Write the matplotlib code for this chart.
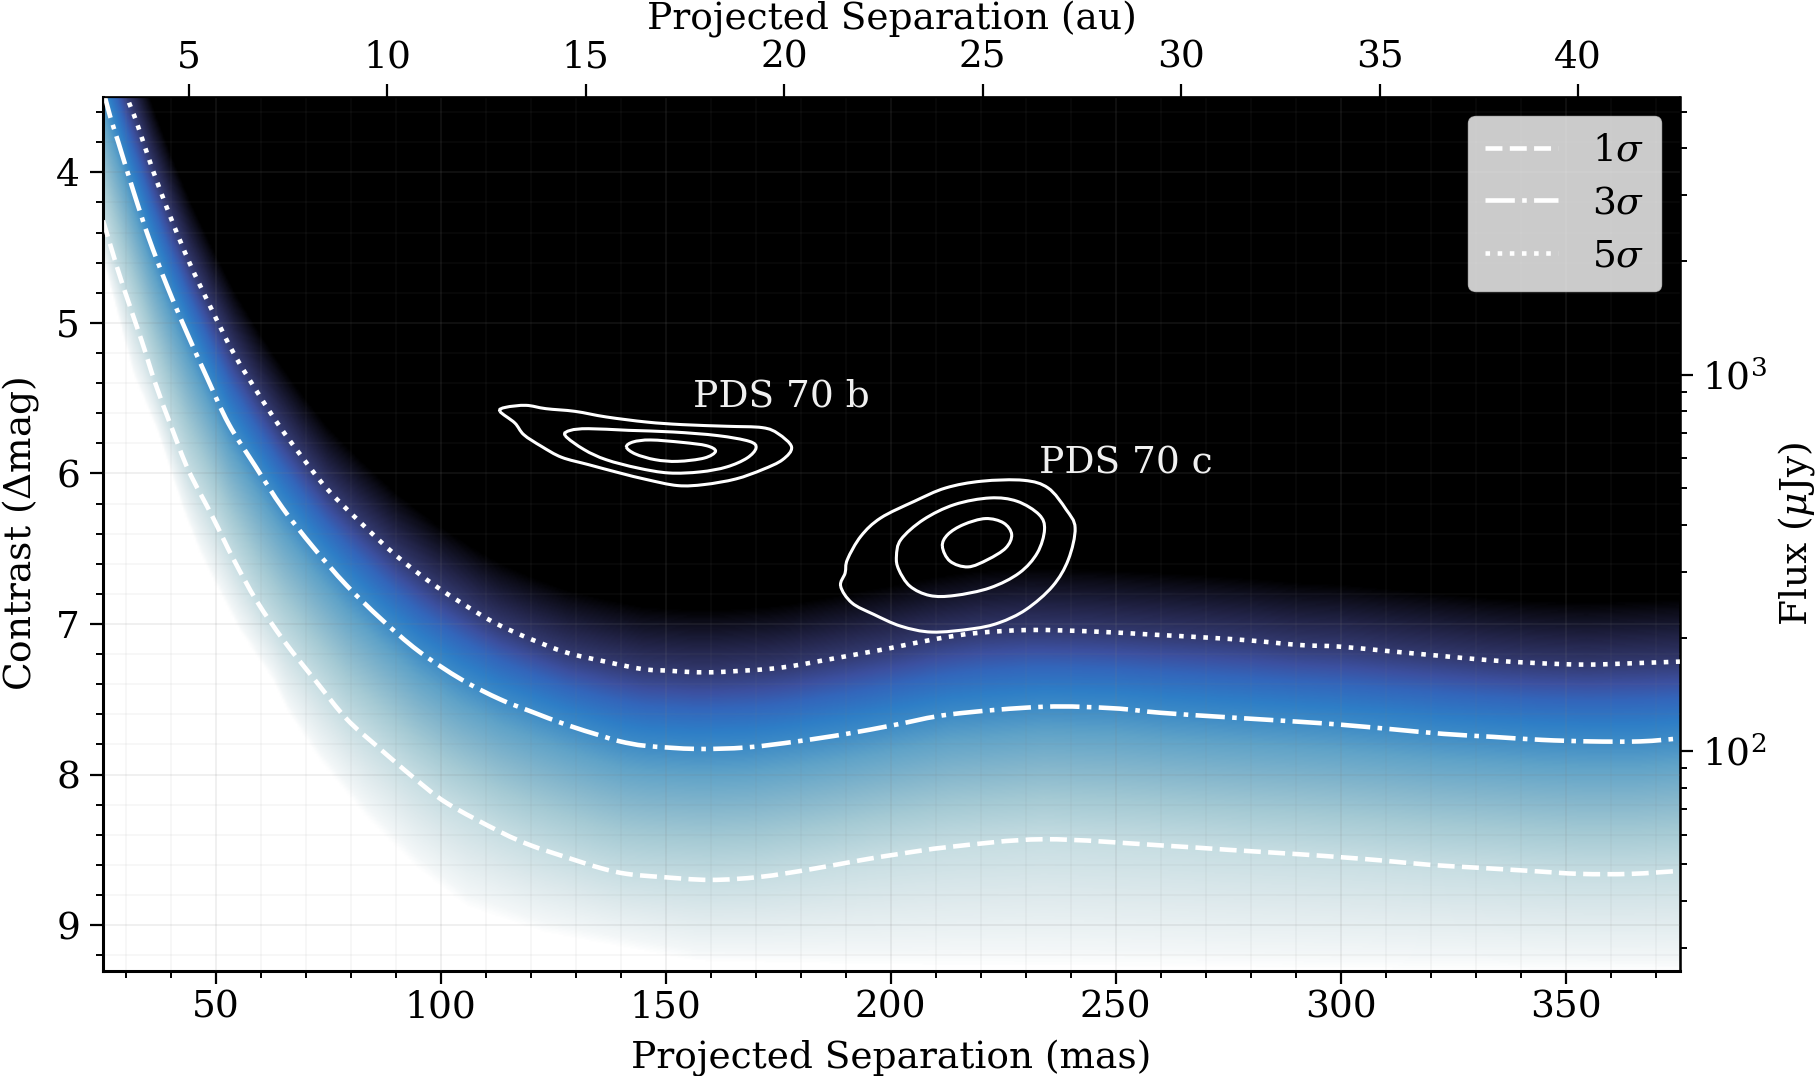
import numpy as np
import matplotlib
matplotlib.use('Agg')
import matplotlib.pyplot as plt
from matplotlib.colors import LinearSegmentedColormap
from matplotlib.lines import Line2D
from matplotlib.patches import PathPatch
from matplotlib.path import Path
from matplotlib.ticker import MultipleLocator, NullFormatter, LogLocator

plt.rcParams['font.family'] = 'DejaVu Serif'
plt.rcParams['mathtext.fontset'] = 'dejavuserif'

# contrast curves (mas, delta mag)
sep_5s = [25, 30, 32.5, 36, 39.9, 44.2, 48.8, 54, 59.7, 64.3, 69.2, 74.7, 82, 90.3, 99, 108.4, 113.2, 120, 128,
          136.6, 144.9, 150.5, 156, 161.5, 167.2, 172.6, 178, 183.6, 189.1, 194.6, 200, 210, 219.2, 231, 245, 257.7,
          270, 280, 291, 299.5, 310.5, 321.5, 332.7, 343.6, 354.7, 365.8, 375.4]
con_5s = [3.0, 3.47, 3.67, 3.98, 4.29, 4.60, 4.89, 5.20, 5.48, 5.69, 5.89, 6.10, 6.32, 6.55, 6.75, 6.93, 7.01, 7.10, 7.19,
          7.25, 7.30, 7.31, 7.32, 7.32, 7.31, 7.30, 7.28, 7.25, 7.22, 7.19, 7.16, 7.10, 7.06, 7.04, 7.05, 7.07,
          7.09, 7.11, 7.14, 7.15, 7.18, 7.21, 7.24, 7.26, 7.27, 7.26, 7.25]

sep_3s = [25, 26.6, 28.4, 31.7, 35.1, 39.3, 43.7, 48.2, 52.9, 58.8, 64.9, 71.7, 79, 86.9, 95.1, 104.7, 113.2, 120, 128,
          135.4, 139.9, 145.8, 156.9, 168, 179.2, 190.2, 201, 213.4, 234, 249.4, 260, 275,
          291, 300.4, 311.7, 322.8, 333.9, 344.7, 355.4, 366.6, 375.4]
con_3s = [3.45, 3.63, 3.80, 4.12, 4.43, 4.76, 5.07, 5.37, 5.67, 5.95, 6.23, 6.49, 6.74, 6.97, 7.18, 7.37, 7.50, 7.58, 7.67,
          7.74, 7.78, 7.81, 7.83, 7.82, 7.78, 7.73, 7.67, 7.60, 7.55, 7.56, 7.59, 7.62,
          7.65, 7.67, 7.70, 7.73, 7.75, 7.77, 7.78, 7.78, 7.76]

sep_1s = [25, 27.1, 29.5, 33.6, 36.6, 40.3, 44, 49.2, 54, 59.2, 65.4, 72.3, 79.1, 85.8, 94, 101.4, 113.2, 120, 128,
          135.4, 141.4, 148.8, 159.9, 171, 182.1, 193.2, 201.4, 213.4, 234, 259.7, 275,
          291, 300.4, 308.8, 319.9, 331, 342, 353.2, 364.4, 375.4]
con_1s = [4.32, 4.53, 4.76, 5.12, 5.40, 5.70, 5.98, 6.28, 6.57, 6.85, 7.12, 7.38, 7.63, 7.81, 8.02, 8.19, 8.38, 8.47, 8.55,
          8.62, 8.66, 8.68, 8.70, 8.68, 8.63, 8.57, 8.53, 8.48, 8.43, 8.47, 8.50,
          8.53, 8.55, 8.57, 8.60, 8.62, 8.64, 8.66, 8.66, 8.64]

# lower edge of the coloured area
sep_edge = [25, 31.7, 37, 42.8, 46.6, 50.3, 55.4, 62.8, 65.9, 73.2, 83.6, 94.7, 105.9, 123, 156.8, 200, 375.4]
con_edge = [4.6, 5.36, 5.73, 6.26, 6.55, 6.77, 7.06, 7.39, 7.59, 7.92, 8.30, 8.63, 8.89, 9.06, 9.25, 9.28, 9.32]

# posterior contours of the two planets
b_outer_x = [113.2, 114.5, 119.0, 123.4, 129.9, 136.8, 145.8, 153.7, 163.6, 171.5, 175.0, 178.0, 176.0, 171.5, 165.6, 158.6, 152.7, 145.8, 139.8, 132.9, 126.9, 122.4, 118.5, 116.5]
b_outer_y = [5.588, 5.561, 5.548, 5.570, 5.588, 5.625, 5.659, 5.676, 5.687, 5.696, 5.736, 5.825, 5.909, 5.975, 6.037, 6.074, 6.081, 6.041, 5.997, 5.942, 5.893, 5.820, 5.743, 5.665]
b_mid_x = [127.7, 128.9, 132.9, 141.8, 151.7, 161.6, 168.6, 170.1, 168.1, 163.6, 157.7, 150.7, 143.8, 136.8, 131.9]
b_mid_y = [5.749, 5.714, 5.703, 5.714, 5.725, 5.749, 5.787, 5.831, 5.898, 5.957, 5.990, 5.997, 5.964, 5.909, 5.842]
b_inner_x = [141.3, 142.8, 146.7, 153.7, 159.1, 161.1, 158.6, 152.7, 147.7, 143.3]
b_inner_y = [5.825, 5.791, 5.778, 5.794, 5.816, 5.853, 5.898, 5.920, 5.909, 5.871]

c_outer_x = [188.9, 189.9, 190.4, 193.4, 197.8, 205.3, 212.2, 220.2, 229.6, 235.0, 239.0, 241.0, 239.5, 236.0, 230.1, 224.1, 218.2, 209.2, 202.3, 196.3, 191.4]
c_outer_y = [6.749, 6.661, 6.572, 6.417, 6.296, 6.185, 6.097, 6.052, 6.046, 6.097, 6.240, 6.362, 6.572, 6.749, 6.904, 6.992, 7.032, 7.054, 7.015, 6.937, 6.860]
c_mid_x = [201.3, 202.3, 207.3, 214.2, 222.1, 228.1, 233.0, 234.2, 232.6, 228.6, 222.1, 214.2, 208.7, 204.3, 201.8]
c_mid_y = [6.550, 6.439, 6.307, 6.207, 6.163, 6.185, 6.274, 6.373, 6.528, 6.661, 6.760, 6.811, 6.811, 6.749, 6.638]
c_inner_x = [211.5, 212.7, 216.2, 221.1, 225.1, 226.9, 225.6, 221.6, 217.2, 213.2]
c_inner_y = [6.484, 6.406, 6.340, 6.300, 6.329, 6.406, 6.495, 6.572, 6.621, 6.583]

au_ticks = [5, 10, 15, 20, 25, 30, 35, 40]
sigma_labels = [r'1$\sigma$', r'3$\sigma$', r'5$\sigma$']

# colours sampled along a column of the map, keyed to sigma level
sigma_stops = [0, 0.13, 0.58, 1, 1.6, 2.1, 2.6, 3, 3.43, 4.04, 4.48, 5, 5.37, 5.81, 6]
color_stops = ['#ffffff', '#f3f7f8', '#dde9ec', '#c6dde2', '#a5cad4', '#84b6cc', '#60a3c8', '#3d8bc6',
               '#2e7ec7', '#3366bb', '#3c50a0', '#333a70', '#23254a', '#0c0c18', '#000000']
cmap = LinearSegmentedColormap.from_list('contrast', [(s / 6, c) for s, c in zip(sigma_stops, color_stops)])

x_lim = (25, 375.4)
y_lim = (9.305, 3.5)
dist_pc = 113.4
mag_1e2 = 7.845
fs = 27


def mag_to_flux(m):
    return 100 * 10 ** (-0.4 * (m - mag_1e2))


def smooth_path(xs, ys, closed=False):
    # bezier path through the read points, so the lines do not look like polygons
    p = np.column_stack([xs, ys])
    if closed:
        p = np.vstack([p[-1], p, p[:2]])
    else:
        p = np.vstack([p[0], p, p[-1]])
    verts = [p[1]]
    codes = [Path.MOVETO]
    for i in range(1, len(p) - 2):
        verts += [p[i] + (p[i + 1] - p[i - 1]) / 6, p[i + 1] - (p[i + 2] - p[i]) / 6, p[i + 1]]
        codes += [Path.CURVE4] * 3
    return Path(verts, codes)


# map background, built column by column from the curves
xg = np.linspace(x_lim[0], x_lim[1], 900)
yg = np.linspace(y_lim[1], y_lim[0], 700)
c1 = np.interp(xg, sep_1s, con_1s)
c3 = np.interp(xg, sep_3s, con_3s)
c5 = np.interp(xg, sep_5s, con_5s)
ce = np.interp(xg, sep_edge, con_edge)
field = np.zeros((len(yg), len(xg)))
for i in range(len(xg)):
    field[:, i] = np.interp(yg, [c5[i] - 0.42, c5[i], c3[i], c1[i], ce[i]], [6, 5, 3, 1, 0])

fig = plt.figure(figsize=(18.18, 10.76), dpi=100)
ax = fig.add_axes([103 / 1818, 1 - 971 / 1076, (1680 - 103) / 1818, (971 - 97) / 1076])

ax.imshow(field, extent=[x_lim[0], x_lim[1], y_lim[0], y_lim[1]], aspect='auto', cmap=cmap, vmin=0, vmax=6,
          interpolation='bilinear', zorder=1)

for xs, ys, ls in [(sep_1s, con_1s, '--'), (sep_3s, con_3s, '-.'), (sep_5s, con_5s, ':')]:
    ax.add_patch(PathPatch(smooth_path(xs, ys), fill=False, edgecolor='white', ls=ls, lw=3.3, zorder=3))

for cx, cy in [(b_outer_x, b_outer_y), (b_mid_x, b_mid_y), (b_inner_x, b_inner_y),
               (c_outer_x, c_outer_y), (c_mid_x, c_mid_y), (c_inner_x, c_inner_y)]:
    ax.add_patch(PathPatch(smooth_path(cx, cy, closed=True), fill=False, edgecolor='white', lw=2.2, zorder=3))

ax.text(156.2, 5.555, 'PDS 70 b', color='#f0f0f0', fontsize=fs, va='baseline', zorder=4)
ax.text(233.0, 6.0, 'PDS 70 c', color='#f0f0f0', fontsize=fs, va='baseline', zorder=4)

ax.set_xlim(x_lim)
ax.set_ylim(y_lim)
ax.xaxis.set_major_locator(MultipleLocator(50))
ax.xaxis.set_minor_locator(MultipleLocator(10))
ax.yaxis.set_major_locator(MultipleLocator(1))
ax.yaxis.set_minor_locator(MultipleLocator(0.2))
ax.grid(which='major', color='gray', alpha=0.13, lw=1.3, zorder=2)
ax.grid(which='minor', color='gray', alpha=0.08, lw=1.1, zorder=2)
ax.set_axisbelow(False)
ax.tick_params(axis='x', which='major', labelsize=fs, length=9.5, width=1.6, pad=4)
ax.tick_params(axis='y', which='major', labelsize=fs, length=9.5, width=1.6, pad=7)
ax.tick_params(which='minor', length=5, width=1.4)
ax.set_xlabel('Projected Separation (mas)', fontsize=fs, labelpad=10)
ax.set_ylabel(r'Contrast ($\Delta$mag)', fontsize=fs, labelpad=11)
ax.spines['left'].set_linewidth(2.2)
ax.spines['bottom'].set_linewidth(2.2)
ax.spines['top'].set_linewidth(1.2)
ax.spines['right'].set_linewidth(1.8)

handles = [Line2D([], [], color='white', ls=ls, lw=3.3) for ls in ['--', '-.', ':']]
leg = ax.legend(handles, sigma_labels, loc='upper right', fontsize=fs, framealpha=0.8, facecolor='white',
                edgecolor='#cccccc', borderaxespad=0.5, labelspacing=0.45, handlelength=1.95, handletextpad=0.9,
                borderpad=0.45)

# top axis in au
top = ax.twiny()
top.set_xlim(x_lim[0] * dist_pc / 1000, x_lim[1] * dist_pc / 1000)
top.set_xticks(au_ticks)
top.tick_params(labelsize=fs, length=9.5, width=1.6, pad=6)
top.set_xlabel('Projected Separation (au)', fontsize=fs, labelpad=7)

# right axis in flux
right = ax.twinx()
right.set_yscale('log')
right.set_ylim(mag_to_flux(y_lim[0]), mag_to_flux(y_lim[1]))
right.yaxis.set_major_locator(LogLocator(base=10, numticks=6))
right.yaxis.set_minor_locator(LogLocator(base=10, subs=np.arange(2, 10) * 0.1, numticks=10))
right.yaxis.set_minor_formatter(NullFormatter())
right.tick_params(which='major', labelsize=fs, length=9.5, width=1.6, pad=6)
right.tick_params(which='minor', length=5, width=1.4)
right.set_ylabel(r'Flux ($\mu$Jy)', fontsize=fs, labelpad=7)

fig.savefig('out.png', dpi=100)
